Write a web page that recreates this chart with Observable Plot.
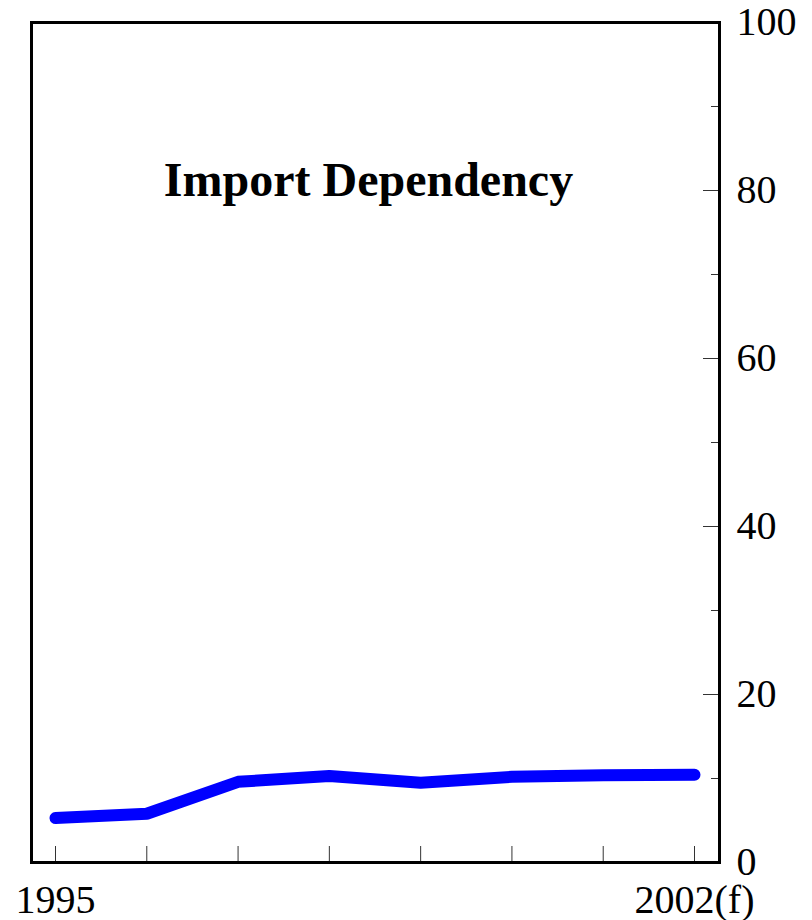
<!DOCTYPE html>
<html>
<head>
<meta charset="utf-8">
<script src="https://cdn.jsdelivr.net/npm/d3@7"></script>
<script src="https://cdn.jsdelivr.net/npm/@observablehq/plot@0.6"></script>
<style>
  html, body { margin: 0; padding: 0; background: #ffffff; }
  #chart svg { display: block; }
</style>
</head>
<body>
<div id="chart"></div>
<script>
// Data
const years = [1995, 1996, 1997, 1998, 1999, 2000, 2001, 2002];
const importDependency = [5.3, 5.8, 9.6, 10.3, 9.5, 10.2, 10.4, 10.45];
const xTickLabels = {1995: "1995", 2002: "2002(f)"};
const yMajorTicks = [0, 20, 40, 60, 80, 100];
const yMinorTicks = [10, 30, 50, 70, 90];
const chartTitle = "Import Dependency";

const data = years.map((y, i) => ({year: y, value: importDependency[i]}));

const font = "'Liberation Serif', 'Times New Roman', Times, serif";

const plot = Plot.plot({
  width: 812,
  height: 920,
  marginLeft: 31,
  marginRight: 93,
  marginTop: 22,
  marginBottom: 58,
  insetLeft: 24,
  insetRight: 25,
  style: {fontFamily: font, fontSize: "40px", color: "black", background: "white"},
  x: {type: "linear", domain: [1995, 2002]},
  y: {domain: [0, 100]},
  marks: [
    Plot.axisX({
      anchor: "bottom",
      ticks: years,
      tickSize: -16,
      tickPadding: 38,
      tickFormat: d => xTickLabels[d] ?? "",
      label: null,
      fontSize: 40,
      stroke: "#333",
      strokeWidth: 1
    }),
    Plot.axisY({
      anchor: "right",
      ticks: yMajorTicks,
      tickSize: -17,
      tickPadding: 34,
      tickFormat: d => String(d),
      label: null,
      fontSize: 40,
      textAnchor: "start",
      stroke: "#333",
      strokeWidth: 1
    }),
    Plot.axisY({
      anchor: "right",
      ticks: yMinorTicks,
      tickSize: -9,
      tickFormat: () => "",
      label: null,
      stroke: "#333",
      strokeWidth: 1
    }),
    Plot.line(data, {
      x: "year",
      y: "value",
      stroke: "#0000ff",
      strokeWidth: 12,
      strokeLinecap: "round",
      strokeLinejoin: "miter"
    }),
    Plot.text([chartTitle], {
      text: d => d,
      frameAnchor: "top",
      lineAnchor: "bottom",
      dy: 173,
      dx: -7,
      fontSize: 48,
      fontWeight: "bold",
      fill: "black"
    }),
    Plot.frame({stroke: "black", strokeWidth: 3})
  ]
});

document.getElementById("chart").appendChild(plot);
</script>
</body>
</html>
